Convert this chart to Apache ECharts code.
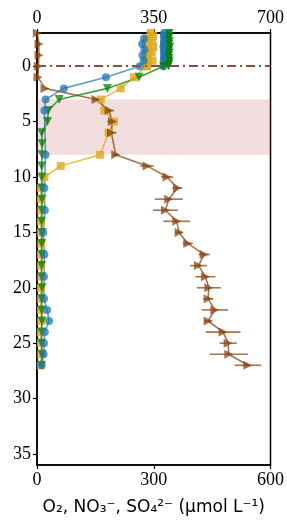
<!DOCTYPE html>
<html>
<head>
<meta charset="utf-8">
<style>html,body{margin:0;padding:0;background:#fff}#main{width:287px;height:529px}</style>
<script src="https://cdn.jsdelivr.net/npm/echarts@6/dist/echarts.min.js"></script>
</head>
<body>
<div id="main"></div>
<script>
// depths (cm), negative = water column
var waterDepth = [-3, -2.75, -2.5, -2.25, -2, -1.75, -1.5, -1.25, -1, -0.75, -0.5, -0.25, 0];
var so4Water = [292, 298, 283, 296, 284, 299, 282, 295, 287, 284, 297, 285, 283];
var o2Water = [327, 326, 328, 326, 327, 325, 327, 326, 328, 326, 327, 326, 325];
var no3Water = [340, 341, 339, 341, 340, 342, 340, 341, 339, 340, 341, 340, 338];

var o2Depth = [-2.5, -2, -1.5, -1, -0.5, 0, 1, 2, 3, 4, 8, 11, 13, 15, 17, 19, 21, 22, 23, 24, 25, 26, 27];
var o2 = [275, 270, 276, 271, 274, 264, 177, 69, 22, 19, 22, 19, 20, 16, 19, 18, 18, 26, 31, 20, 18, 17, 12];

var no3Depth = [0, 1, 2, 3, 4, 5, 6, 7, 8, 9, 10, 11, 12, 13, 14, 15, 16, 17, 18, 19, 20, 21, 22, 23, 24, 25, 26, 27];
var no3 = [325, 262, 181, 57, 29, 27, 12, 13, 13, 12, 12, 12, 13, 13, 12, 13, 12, 13, 12, 12, 13, 12, 12, 13, 12, 12, 13, 12];

var so4Depth = [0, 1, 2, 3, 4, 5, 6, 8, 9, 10, 11, 12, 13, 14, 15, 16, 17, 18, 19, 20, 21, 22, 23, 24, 25, 26, 27];
var so4 = [282, 249, 215, 164, 173, 198, 184, 162, 61, 19, 10, 10, 11, 10, 10, 11, 10, 10, 11, 10, 10, 10, 11, 10, 10, 11, 10];

// top axis series (0-700)
var topDepth = [-3, -2, -1, 0, 1, 2, 3, 4, 5, 6, 8, 9, 10, 11, 12, 13, 14, 15, 16, 17, 18, 19, 20, 21, 22, 23, 24, 25, 26, 27];
var topVal = [1, 6, 6, 4, 3, 24, 177, 216, 226, 223, 236, 330, 390, 421, 395, 385, 419, 426, 452, 501, 484, 505, 515, 513, 533, 513, 558, 573, 575, 632];
var topErr = [0, 0, 0, 0, 0, 0, 10, 15, 15, 15, 10, 20, 18, 15, 42, 37, 40, 12, 15, 17, 25, 30, 36, 15, 40, 12, 52, 26, 58, 40];

var bandRange = [3, 8];
var yTicks = [0, 5, 10, 15, 20, 25, 30, 35];

function pairs(xs, ys) {
    return xs.map(function (x, i) { return [x, ys[i]]; });
}

var blue = '#1f77b4', green = '#0a7d0a', gold = '#dfa91f', brown = '#8b4513';
var serif = 'Liberation Serif';

var myChart = echarts.init(document.getElementById('main'));

var axisCommon = {
    type: 'value',
    splitLine: { show: false },
    axisLine: { show: true, onZero: false, lineStyle: { color: '#000', width: 1.5 } },
    axisTick: { show: true, length: 4, lineStyle: { color: '#000', width: 1.2 } },
    axisLabel: { color: '#000', fontFamily: serif, fontSize: 18, margin: 6 }
};

option = {
    animation: false,
    grid: { left: 37, right: 14, top: 33, bottom: 64, show: true, borderColor: '#000', borderWidth: 1.5 },
    xAxis: [
        Object.assign({}, axisCommon, {
            position: 'bottom', min: 0, max: 600, interval: 300,
            name: 'O₂, NO₃⁻, SO₄²⁻ (μmol L⁻¹)',
            nameLocation: 'middle', nameGap: 34,
            nameTextStyle: { color: '#000', fontFamily: 'DejaVu Sans', fontSize: 17 }
        }),
        Object.assign({}, axisCommon, { position: 'top', min: 0, max: 700, interval: 350 })
    ],
    yAxis: Object.assign({}, axisCommon, {
        inverse: true, min: -3, max: 36,
        axisTick: { show: true, length: 4, lineStyle: { color: '#000', width: 1.2 }, customValues: yTicks },
        axisLabel: { color: '#000', fontFamily: serif, fontSize: 18, margin: 6, customValues: yTicks }
    }),
    series: [
        {
            type: 'line', data: [], xAxisIndex: 0, z: 0,
            markArea: {
                silent: true,
                itemStyle: { color: 'rgba(190,90,90,0.2)' },
                data: [[{ yAxis: bandRange[0] }, { yAxis: bandRange[1] }]]
            },
            markLine: {
                silent: true, symbol: 'none', label: { show: false },
                lineStyle: { color: '#8c4f3f', width: 2, type: [9, 4, 2, 4] },
                data: [{ yAxis: 0 }]
            }
        },
        {
            name: 'SO4 water', type: 'scatter', xAxisIndex: 0, symbol: 'rect', symbolSize: 8,
            itemStyle: { color: gold, opacity: 0.85 }, data: pairs(so4Water, waterDepth)
        },
        {
            name: 'O2 water', type: 'scatter', xAxisIndex: 0, symbol: 'circle', symbolSize: 8,
            itemStyle: { color: blue, opacity: 0.85 }, data: pairs(o2Water, waterDepth)
        },
        {
            name: 'NO3 water', type: 'scatter', xAxisIndex: 0, symbol: 'triangle', symbolRotate: 180, symbolSize: 8,
            itemStyle: { color: green, opacity: 0.9 }, data: pairs(no3Water, waterDepth)
        },
        {
            name: 'SO4', type: 'line', xAxisIndex: 0, symbol: 'rect', symbolSize: 8,
            lineStyle: { color: gold, width: 1.6, opacity: 0.75 },
            itemStyle: { color: gold, opacity: 0.8 }, data: pairs(so4, so4Depth)
        },
        {
            name: 'NO3', type: 'line', xAxisIndex: 0, symbol: 'triangle', symbolRotate: 180, symbolSize: 9,
            lineStyle: { color: green, width: 1.6, opacity: 0.75 },
            itemStyle: { color: green, opacity: 0.75 }, data: pairs(no3, no3Depth)
        },
        {
            name: 'O2', type: 'line', xAxisIndex: 0, symbol: 'circle', symbolSize: 8,
            lineStyle: { color: blue, width: 1.6, opacity: 0.7 },
            itemStyle: { color: blue, opacity: 0.75 }, data: pairs(o2, o2Depth)
        },
        {
            name: 'top err', type: 'custom', xAxisIndex: 1,
            encode: { x: 0, y: 1 },
            data: topVal.map(function (v, i) { return [v, topDepth[i], topErr[i]]; }),
            renderItem: function (params, api) {
                var x = api.value(0), y = api.value(1), e = api.value(2);
                var a = api.coord([x - e, y]), b = api.coord([x + e, y]);
                return {
                    type: 'line',
                    shape: { x1: a[0], y1: a[1], x2: b[0], y2: b[1] },
                    style: { stroke: brown, lineWidth: 1.6, opacity: 0.75 }
                };
            }
        },
        {
            name: 'top', type: 'line', xAxisIndex: 1, symbol: 'triangle', symbolRotate: -90, symbolSize: 9,
            lineStyle: { color: brown, width: 1.6, opacity: 0.75 },
            itemStyle: { color: brown, opacity: 0.75 }, data: pairs(topVal, topDepth)
        }
    ]
};

myChart.setOption(option);
</script>
</body>
</html>
